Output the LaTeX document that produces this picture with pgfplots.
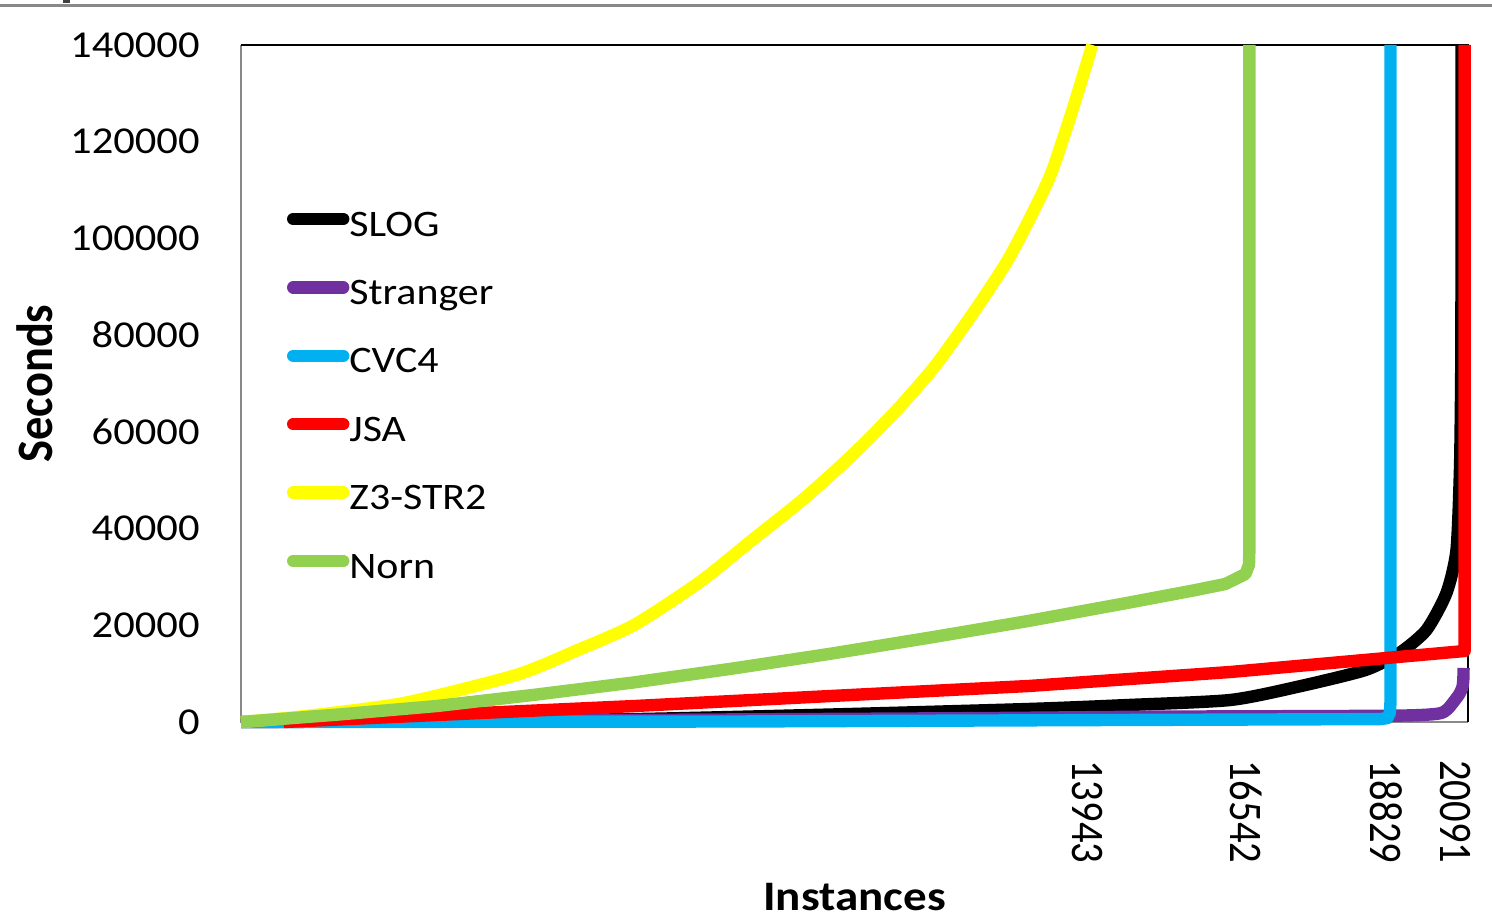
\documentclass[border=0pt]{standalone}
\usepackage{pgfplots}
\pgfplotsset{compat=1.18}
\usepackage{fontspec}
\usepackage{graphicx}
\setmainfont{Carlito}[FakeStretch=1.12]
\newfontfamily\plainfont{Carlito}
\definecolor{cslog}{RGB}{0,0,0}
\definecolor{cstr}{RGB}{112,48,160}
\definecolor{ccvc}{RGB}{0,176,240}
\definecolor{cjsa}{RGB}{255,0,0}
\definecolor{cz}{RGB}{255,255,0}
\definecolor{cnorn}{RGB}{146,208,80}
\definecolor{framegray}{RGB}{137,137,137}
\begin{document}
\begin{tikzpicture}
\useasboundingbox (0,0) rectangle (746pt,460pt);
\draw[framegray, line width=1.3pt] (0,457.2pt) -- (746pt,457.2pt);
\fill[black!75] (31.5pt,458.6pt) rectangle (35pt,460pt);
\begin{axis}[
  at={(120.5pt,99pt)}, anchor=south west,
  scale only axis, width=613.5pt, height=338.5pt,
  xmin=0, xmax=20091, ymin=0, ymax=140000,
  scaled x ticks=false, scaled y ticks=false,
  clip=false,
  axis line style={draw=none},
  major tick length=0pt,
  xtick={13943,16542,18829},
  xticklabels={{\scalebox{1}[1.15]{13943}},{\scalebox{1}[1.15]{16542}},{\scalebox{1}[1.15]{18829}}},
  extra x ticks={20091},
  extra x tick labels={{\scalebox{1}[1.15]{20091}}},
  extra x tick style={xticklabel style={yshift=-3.75pt}},
  xticklabel style={font=\plainfont\fontsize{20.3}{24}\selectfont, yshift=-19pt, xshift=-2.5pt, rotate=-90, anchor=west, inner sep=0pt},
  ytick={0,20000,40000,60000,80000,100000,120000,140000},
  yticklabels={0,20000,40000,60000,80000,100000,120000,140000},
  yticklabel style={font=\fontsize{19}{22}\selectfont, anchor=east, inner sep=0pt, xshift=-20.5pt},
  xlabel={Instances},
  xlabel style={font=\bfseries\fontsize{21}{25}\selectfont, at={(axis description cs:0.5,-0.2777)}, anchor=base, inner sep=0pt},
  ylabel={\scalebox{1}[1.1]{Seconds}},
  ylabel style={font=\plainfont\bfseries\fontsize{23.2}{27}\selectfont, at={(axis description cs:-0.168,0.5)}, anchor=center, inner sep=0pt},
  legend cell align=left,
  legend style={at={(0.0375,0.7861)}, anchor=north west, draw=none, fill=none,
    inner sep=0pt, outer sep=0pt, row sep=0pt,
    font=\fontsize{18.7}{22}\selectfont,
    nodes={inner sep=0pt, text height=12pt, text depth=0pt, minimum height=34.2pt},
    /tikz/every odd column/.append style={column sep=0pt}},
  legend image code/.code={\draw[#1, line cap=round] (0pt,2.5pt) -- (25pt,2.5pt);},
]
\draw[framegray, line width=1pt] (rel axis cs:0,1) -- (rel axis cs:0,0) -- (rel axis cs:1,0);
\draw[black, line width=1pt] (rel axis cs:0,1) -- (rel axis cs:1,1) -- (rel axis cs:1,0);

\addplot[cslog, line width=6.2pt, line join=round, mark=none, smooth, tension=0.4] coordinates {
(0,0) (3000,150) (6437,600) (9664,1550) (12891,2690) (14500,3500) (16200,4550)
(17307,7300) (18411,10750) (18968,14270) (19410,19020) (19738,26670) (19902,35570)
(19960,52730) (19980,73410) (19985,100000) (19987,140000)};
\addlegendentry{SLOG}

\addplot[cstr, line width=6.2pt, line join=round, mark=none, smooth, tension=0.4] coordinates {
(0,0) (6000,400) (12000,800) (14900,1100) (18821,1300) (19590,1700) (19750,2600)
(19853,4140) (19950,5800) (20000,7240) (20015,9000) (20018,11170)};
\addlegendentry{Stranger}

\addplot[ccvc, line width=6.2pt, line join=round, mark=none] coordinates {
(0,0) (8000,100) (14000,400) (18650,600) (18770,800) (18810,1800) (18821,4000) (18821,140000)};
\addlegendentry{CVC4}

\addplot[cjsa, line width=6.2pt, line join=round, mark=none] coordinates {
(700,0) (3210,1450) (6437,3300) (9664,5380) (12891,7440) (16200,10340) (20035,14680) (20035,140000)};
\addlegendentry{JSA}

\addplot[cz, line width=6.2pt, line join=round, mark=none, smooth, tension=0.4] coordinates {
(0,0) (1065,1240) (2670,3930) (4505,9720) (5500,14800) (6437,20060) (7518,29000)
(8370,37630) (9200,46000) (9992,55000) (10700,64000) (11351,73410) (12000,84800)
(12547,95330) (12950,105000) (13268,113530) (13620,126800) (13939,140000)};
\addlegendentry{Z3-STR2}

\addplot[cnorn, line width=6.2pt, line join=round, mark=none] coordinates {
(0,0) (1600,1550) (3210,3310) (4820,5650) (6437,8190) (8050,11050) (9664,14140)
(11280,17450) (12891,20890) (14500,24600) (15594,27200) (16118,28540) (16446,30600)
(16505,32500) (16512,36000) (16512,140000)};
\addlegendentry{Norn}
\end{axis}
\end{tikzpicture}
\end{document}
